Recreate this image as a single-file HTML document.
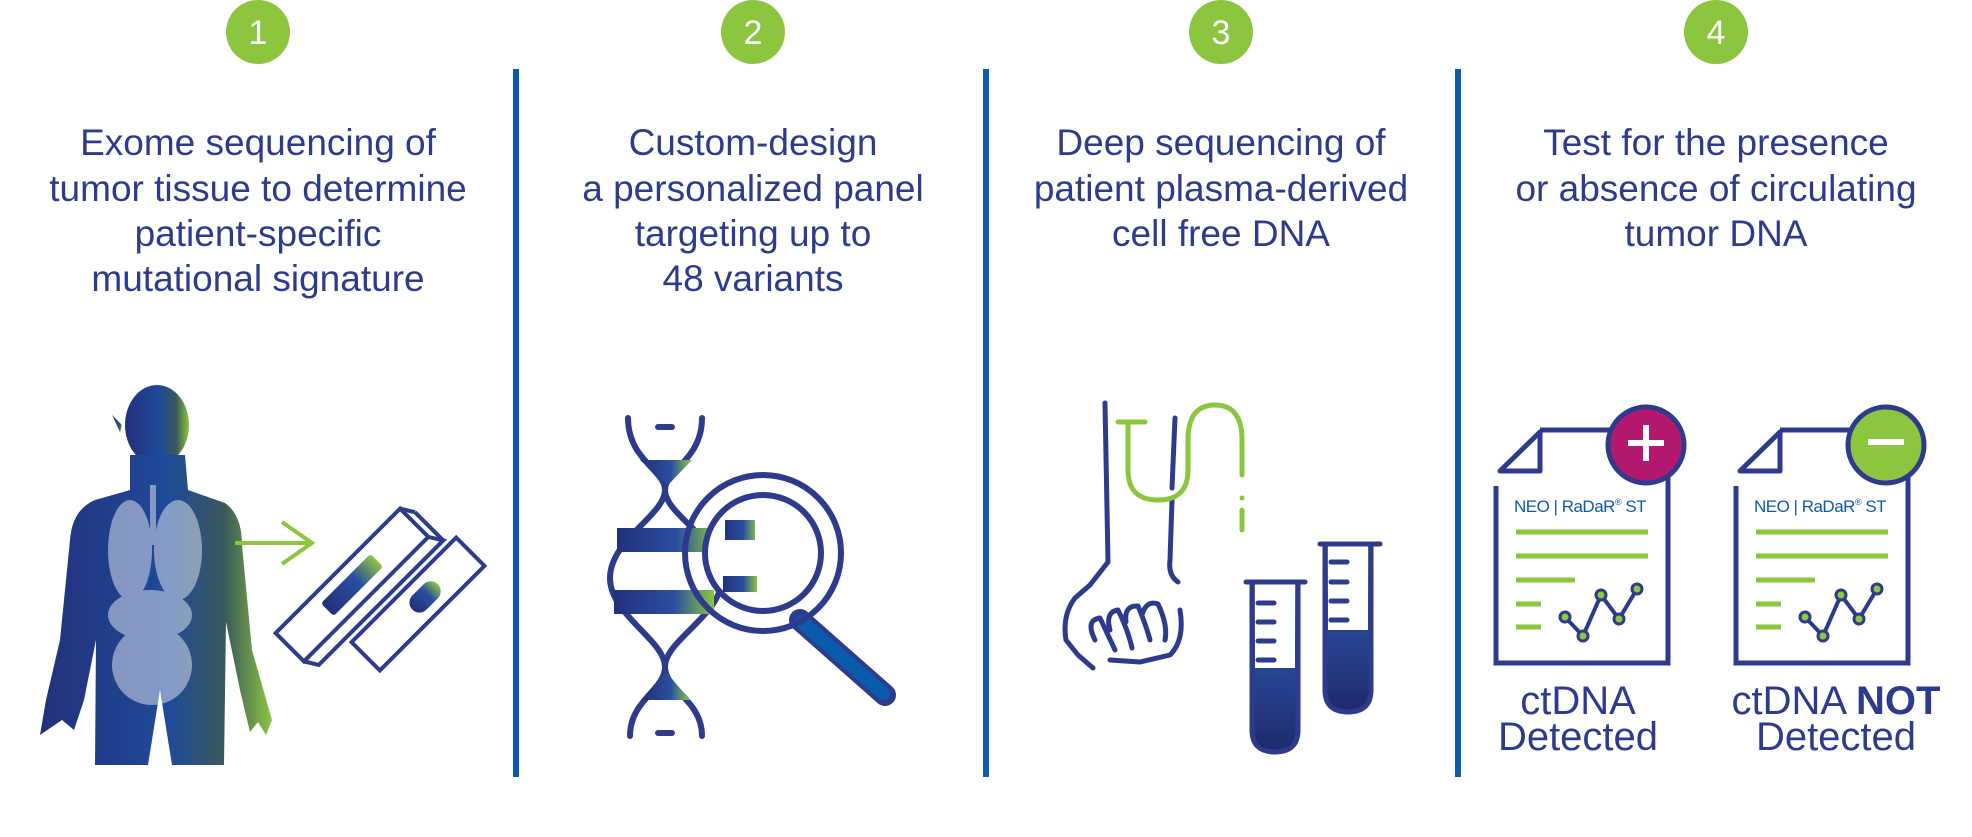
<!DOCTYPE html>
<html><head><meta charset="utf-8"><style>
html,body{margin:0;padding:0;background:#fff;}
svg{display:block;}
text{font-family:"Liberation Sans",sans-serif;}
</style></head><body>
<svg width="1972" height="837" viewBox="0 0 1972 837" xmlns="http://www.w3.org/2000/svg">
<defs>
<linearGradient id="body" x1="0" x2="1" y1="0" y2="0">
<stop offset="0" stop-color="#22307a"/><stop offset="0.55" stop-color="#1f4a9a"/><stop offset="0.8" stop-color="#3a5a5a"/><stop offset="1" stop-color="#8cc63f"/></linearGradient>
<linearGradient id="rung" x1="0" x2="1"><stop offset="0" stop-color="#22307a"/><stop offset="0.6" stop-color="#2a4fa0"/><stop offset="1" stop-color="#8cc63f"/></linearGradient>
<linearGradient id="tube" x1="0" x2="0" y1="0" y2="1"><stop offset="0" stop-color="#7ab83a"/><stop offset="0.35" stop-color="#2a4fa0"/><stop offset="1" stop-color="#1e2a6e"/></linearGradient>
</defs>
<rect x="513" y="69" width="6" height="708" fill="#0a5bab"/>
<rect x="983" y="69" width="6" height="708" fill="#0a5bab"/>
<rect x="1455" y="69" width="6" height="708" fill="#0a5bab"/>
<g fill="#8cc63f"><circle cx="258" cy="32" r="32"/><circle cx="753" cy="32" r="32"/><circle cx="1221" cy="32" r="32"/><circle cx="1716" cy="32" r="32"/></g>
<g fill="#fff" font-size="34" text-anchor="middle"><text x="258" y="44">1</text><text x="753" y="44">2</text><text x="1221" y="44">3</text><text x="1716" y="44">4</text></g>
<g fill="#2e3a8c" font-size="37" text-anchor="middle">
<text x="258" y="155">Exome sequencing of</text><text x="258" y="201">tumor tissue to determine</text><text x="258" y="246">patient-specific</text><text x="258" y="291">mutational signature</text>
<text x="753" y="155">Custom-design</text><text x="753" y="201">a personalized panel</text><text x="753" y="246">targeting up to</text><text x="753" y="291">48 variants</text>
<text x="1221" y="155">Deep sequencing of</text><text x="1221" y="201">patient plasma-derived</text><text x="1221" y="246">cell free DNA</text>
<text x="1716" y="155">Test for the presence</text><text x="1716" y="201">or absence of circulating</text><text x="1716" y="246">tumor DNA</text>
</g>
<g fill="url(#body)">
<ellipse cx="157" cy="425" rx="32" ry="40"/>
<path d="M112 415 L122 425 L120 432 Z"/>
<path d="M130 455 L185 455 L188 490 L225 503 Q242 515 242 545 L252 650 L272 720 L266 735 L258 722 L250 732 L240 690 L226 622 L224 765 L172 765 L160 690 L148 765 L95 765 L96 640 L84 700 L74 730 L62 720 L40 735 L46 700 L60 640 L70 540 Q72 510 95 500 L130 490 Z"/>
</g>
<g fill="#fff" opacity="0.45">
<ellipse cx="130" cy="550" rx="22" ry="50"/><ellipse cx="178" cy="550" rx="24" ry="50"/>
<ellipse cx="150" cy="615" rx="42" ry="25"/><ellipse cx="152" cy="665" rx="40" ry="40"/>
<rect x="150" y="485" width="6" height="60"/>
</g>
<line x1="235" y1="543" x2="308" y2="543" stroke="#8cc63f" stroke-width="4"/>
<polyline points="282,522 312,543 282,564" fill="none" stroke="#8cc63f" stroke-width="4"/>
<g transform="translate(352,585) rotate(-45)" fill="none" stroke="#2e3a8c" stroke-width="4">
<rect x="-88" y="-20" width="176" height="40" fill="#fff"/>
<polyline points="-88,20 -80,33 96,33 88,20"/><line x1="88" y1="-20" x2="96" y2="-7"/><line x1="96" y1="-7" x2="96" y2="33"/>
<rect x="-35" y="-9" width="70" height="18" rx="3" fill="url(#rung)" stroke="none"/>
</g>
<g transform="translate(418,604) rotate(-45)" fill="#fff" stroke="#2e3a8c" stroke-width="4">
<rect x="-74" y="-20" width="148" height="40"/>
<rect x="-8" y="-10" width="36" height="20" rx="10" fill="url(#rung)" stroke="none"/>
</g>
<g fill="none" stroke="#2e3a8c" stroke-width="6" stroke-linecap="round">
<path d="M628 418 C628 460 665 470 665 490 C665 515 722 540 722 578 C722 615 665 640 665 667 C665 690 630 700 630 736"/>
<path d="M702 418 C702 460 665 470 665 490 C665 515 610 540 610 578 C610 615 665 640 665 667 C665 690 702 700 702 736"/>
<line x1="658" y1="427" x2="672" y2="427"/><line x1="658" y1="733" x2="672" y2="733"/>
</g>
<rect x="617" y="528" width="100" height="24" fill="url(#rung)"/>
<rect x="614" y="590" width="100" height="24" fill="url(#rung)"/>
<path d="M640 460 L692 460 L668 485 Z" fill="url(#rung)"/>
<path d="M642 700 L690 700 L666 672 Z" fill="url(#rung)"/>
<line x1="800" y1="620" x2="885" y2="695" stroke="#2e3a8c" stroke-width="22" stroke-linecap="round"/>
<line x1="802" y1="622" x2="883" y2="693" stroke="#0a5bab" stroke-width="14" stroke-linecap="round"/>
<circle cx="763" cy="553" r="78" fill="none" stroke="#2e3a8c" stroke-width="6"/>
<circle cx="763" cy="553" r="58" fill="#fff" stroke="#2e3a8c" stroke-width="6"/>
<path d="M725 520 L755 520 L755 540 L725 540 Z M723 576 L757 576 L757 592 L723 592 Z" fill="url(#rung)"/>
<g fill="none" stroke="#2e3a8c" stroke-width="5" stroke-linecap="round" stroke-linejoin="round">
<line x1="1105" y1="403" x2="1108" y2="562"/>
<line x1="1175" y1="418" x2="1172" y2="488"/>
<path d="M1172 500 L1170 560 Q1168 575 1178 582"/>
<path d="M1108 562 L1090 585 L1075 598 Q1062 615 1066 640 L1078 655 L1093 668"/>
<path d="M1180 610 Q1185 640 1170 655 L1140 662 L1110 660"/>
<path d="M1095 640 Q1085 620 1100 618 Q1108 635 1115 650 M1110 630 Q1105 612 1118 610 Q1128 630 1132 648 M1126 622 Q1124 605 1138 606 Q1146 625 1150 640 M1142 615 Q1146 600 1158 604 Q1168 625 1165 640"/>
</g>
<g fill="none" stroke="#8cc63f" stroke-width="5" stroke-linecap="round">
<line x1="1118" y1="422" x2="1145" y2="422"/>
<path d="M1128 422 L1128 470 Q1128 500 1158 500 Q1188 500 1188 470 L1188 440 Q1188 405 1215 405 Q1242 405 1242 440 L1242 475"/>
<line x1="1242" y1="498" x2="1242" y2="498"/><line x1="1242" y1="510" x2="1242" y2="530"/>
</g>
<g stroke="#2e3a8c" stroke-width="5" fill="none" stroke-linecap="round">
<path d="M1252 582 L1252 730 Q1252 752 1275 752 Q1298 752 1298 730 L1298 582" fill="url(#tube)"/>
<rect x="1255" y="584" width="40" height="84" fill="#fff" stroke="none"/>
<line x1="1246" y1="582" x2="1305" y2="582"/>
<line x1="1258" y1="603" x2="1274" y2="603"/><line x1="1258" y1="622" x2="1274" y2="622"/><line x1="1258" y1="641" x2="1274" y2="641"/><line x1="1258" y1="660" x2="1274" y2="660"/>
<path d="M1325 544 L1325 690 Q1325 712 1348 712 Q1371 712 1371 690 L1371 544" fill="url(#tube)"/>
<rect x="1328" y="546" width="40" height="84" fill="#fff" stroke="none"/>
<line x1="1320" y1="544" x2="1380" y2="544"/>
<line x1="1331" y1="562" x2="1347" y2="562"/><line x1="1331" y1="582" x2="1347" y2="582"/><line x1="1331" y1="601" x2="1347" y2="601"/><line x1="1331" y1="620" x2="1347" y2="620"/>
</g>
<g id="d1">
<path d="M1496 486 L1496 663 L1668 663 L1668 470" fill="none" stroke="#2e3a8c" stroke-width="5"/>
<path d="M1540 430 L1640 430" stroke="#2e3a8c" stroke-width="5"/>
<path d="M1540 432 L1540 471 L1500 471 Z" fill="none" stroke="#2e3a8c" stroke-width="5" stroke-linejoin="round"/>
<text x="1514" y="512" font-size="17" fill="#0a5bab" letter-spacing="-0.5">NEO | RaDaR<tspan font-size="9" dy="-7">®</tspan><tspan dy="7"> ST</tspan></text>
<g stroke="#8cc63f" stroke-width="5"><line x1="1516" y1="532" x2="1648" y2="532"/><line x1="1516" y1="556" x2="1648" y2="556"/><line x1="1516" y1="580" x2="1575" y2="580"/><line x1="1516" y1="604" x2="1541" y2="604"/><line x1="1516" y1="627" x2="1541" y2="627"/></g>
<polyline points="1565,617 1583,636 1601,595 1619,619 1637,589" fill="none" stroke="#2e3a8c" stroke-width="4"/>
<g fill="#8cc63f" stroke="#2e3a8c" stroke-width="3"><circle cx="1565" cy="617" r="5"/><circle cx="1583" cy="636" r="5"/><circle cx="1601" cy="595" r="5"/><circle cx="1619" cy="619" r="5"/><circle cx="1637" cy="589" r="5"/></g>
</g>
<circle cx="1646" cy="445" r="38" fill="#b5196f" stroke="#2e3a8c" stroke-width="5"/>
<g stroke="#fff" stroke-width="6"><line x1="1628" y1="443" x2="1664" y2="443"/><line x1="1646" y1="425" x2="1646" y2="461"/></g>
<use href="#d1" transform="translate(240,0)"/>
<circle cx="1886" cy="445" r="38" fill="#8cc63f" stroke="#2e3a8c" stroke-width="5"/>
<line x1="1868" y1="442" x2="1904" y2="442" stroke="#fff" stroke-width="6"/>
<g fill="#2e3a8c" font-size="40" text-anchor="middle">
<text x="1578" y="714">ctDNA</text><text x="1578" y="750">Detected</text>
<text x="1836" y="714">ctDNA <tspan font-weight="bold">NOT</tspan></text><text x="1836" y="750">Detected</text>
</g>
</svg>
</body></html>
